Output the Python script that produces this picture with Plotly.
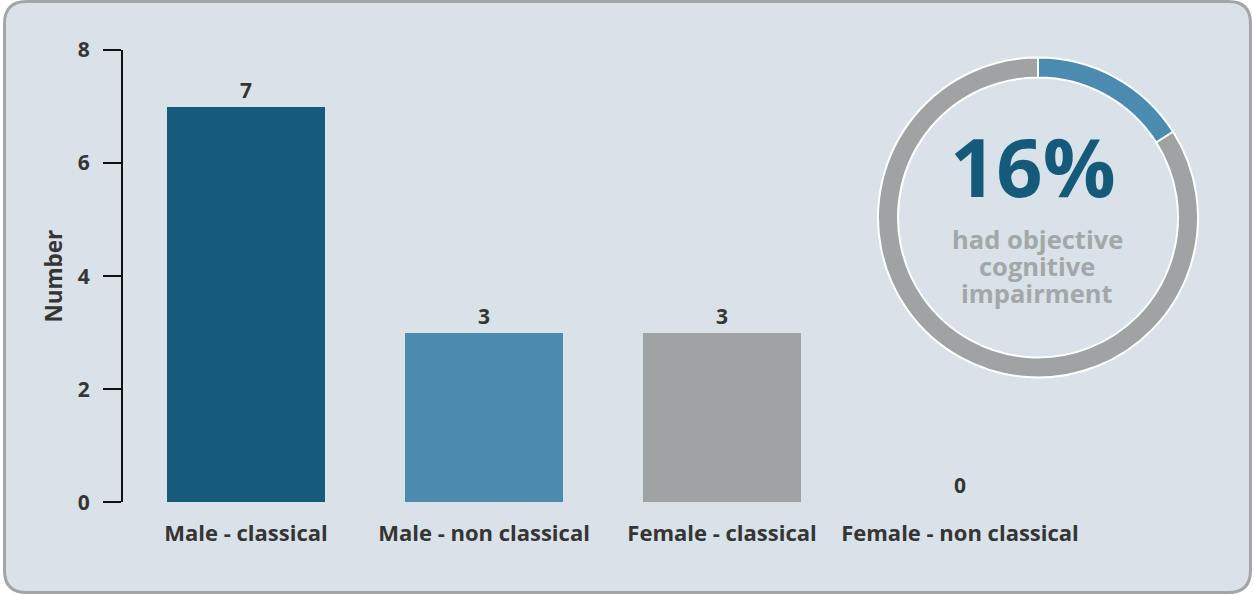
import plotly.graph_objects as go

categories = ["Male - classical", "Male - non classical", "Female - classical", "Female - non classical"]
counts = [7, 3, 3, 0]
bar_colors = ["#175b7c", "#4c8bb0", "#a0a3a4", "#8fa9b8"]
y_ticks = [0, 2, 4, 6, 8]

donut_labels = ["had objective cognitive impairment", "other"]
donut_values = [16, 84]
donut_colors = ["#4c8bb0", "#a0a3a4"]
donut_big = "16%"
donut_caption = ["had objective", "cognitive", "impairment"]

W, H = 1254, 595
FONT = "Open Sans"
TXT = "#353535"

fig = go.Figure()
fig.add_trace(go.Bar(
    x=categories, y=counts, marker=dict(color=bar_colors, line=dict(width=0)),
    width=0.664, text=[str(v) for v in counts], textposition="outside",
    textfont=dict(family=FONT, size=21, color=TXT, weight="bold"), cliponaxis=False,
    showlegend=False, hoverinfo="skip",
))

# donut
cx, cy, r = 1038, 217.5, 160
fig.add_trace(go.Pie(
    labels=donut_labels, values=donut_values, hole=0.875, sort=False,
    direction="clockwise", rotation=0, textinfo="none", automargin=False,
    marker=dict(colors=donut_colors, line=dict(color="white", width=2)),
    domain=dict(x=[(cx - r) / W, (cx + r) / W], y=[(H - cy - r) / H, (H - cy + r) / H]),
    showlegend=False, hoverinfo="skip",
))

fig.add_annotation(x=1033 / W, y=1 - 165 / H, xref="paper", yref="paper",
                   xanchor="center", yanchor="middle",
                   text=f"<b>{donut_big}</b>", showarrow=False,
                   font=dict(family=FONT, size=81, color="#165a7a"))
for line, yy in zip(donut_caption, [238.5, 265.5, 292.5]):
    fig.add_annotation(x=1037 / W, y=1 - yy / H, xref="paper", yref="paper",
                       xanchor="center", yanchor="middle",
                       text=f"<b>{line}</b>", showarrow=False,
                       font=dict(family=FONT, size=25.5, color="#a3a7a9"))


def pts_path(x0p, y0p, x1p, y1p, rad):
    # pixel coords (y down) -> paper fractions
    def P(x, y):
        return f"{x / W:.5f},{1 - y / H:.5f}"
    return (f"M {P(x0p+rad, y0p)} L {P(x1p-rad, y0p)} Q {P(x1p, y0p)} {P(x1p, y0p+rad)} "
            f"L {P(x1p, y1p-rad)} Q {P(x1p, y1p)} {P(x1p-rad, y1p)} L {P(x0p+rad, y1p)} "
            f"Q {P(x0p, y1p)} {P(x0p, y1p-rad)} L {P(x0p, y0p+rad)} Q {P(x0p, y0p)} {P(x0p+rad, y0p)} Z")


fig.add_shape(type="path", xref="paper", yref="paper", layer="below",
              path=pts_path(4.5, 1.5, 1250.5, 592.5, 22),
              fillcolor="#d8e2e8", line=dict(color="#a2a6a8", width=3))

fig.update_layout(
    width=W, height=H, margin=dict(l=0, r=0, t=0, b=0, pad=0, autoexpand=False),
    paper_bgcolor="white", plot_bgcolor="rgba(0,0,0,0)",
    font=dict(family=FONT, color=TXT),
    bargap=0,
    xaxis=dict(domain=[123 / W, 1079 / W], range=[-0.517, 3.5], showgrid=False,
               automargin=False,
               zeroline=False, showline=False, ticks="outside", ticklen=11,
               tickcolor="rgba(0,0,0,0)",
               tickfont=dict(family=FONT, size=22, color=TXT, weight="bold")),
    yaxis=dict(domain=[(H - 502.3) / H, (H - 50) / H], range=[0, 8], tickvals=y_ticks,
               automargin=False,
               showgrid=False, zeroline=False, showline=True, linecolor="#111",
               linewidth=2, ticks="outside", ticklen=18, tickwidth=2, tickcolor="#111",
               ticklabelstandoff=9,
               tickfont=dict(family=FONT, size=21, color=TXT, weight="bold"),
               title=dict(text="<b>Number</b>", standoff=9,
                          font=dict(family=FONT, size=22.5, color=TXT))),
)

fig.write_html("out.html", config={"displayModeBar": False},
               post_script="document.body.style.margin='0px';")
